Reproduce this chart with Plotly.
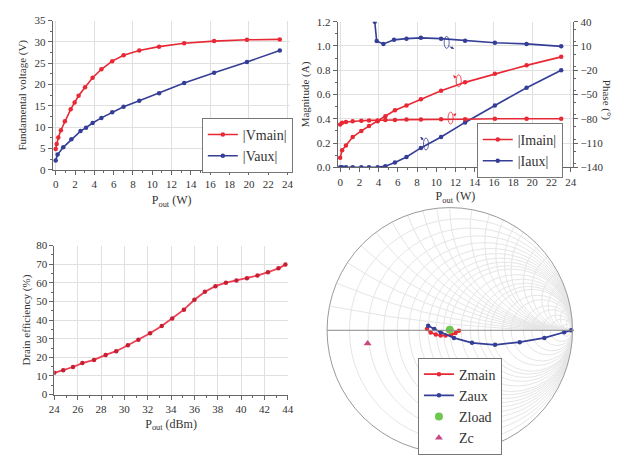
import plotly.graph_objects as go

# ---------------- data ----------------
# Top-left: fundamental voltage vs Pout (W)
xVmain = [0, 0.1, 0.27, 0.54, 0.95, 1.55, 1.96, 2.37, 3.04, 3.82, 4.73, 5.85, 7.03, 8.65, 10.7, 13.3, 16.4, 19.8, 23.2]
Vmain = [4.9, 6.1, 7.6, 9.3, 11.4, 14.2, 15.8, 17.4, 19.4, 21.6, 23.6, 25.5, 26.9, 28.0, 28.9, 29.7, 30.2, 30.5, 30.6]
xVaux = [0, 0.2, 0.78, 1.62, 2.57, 3.14, 3.82, 4.73, 5.85, 7.03, 8.65, 10.7, 13.3, 16.4, 19.8, 23.2]
Vaux = [2.2, 3.6, 5.3, 7.2, 9.1, 9.9, 11.0, 12.2, 13.5, 14.8, 16.2, 18.0, 20.4, 22.8, 25.3, 28.0]

# Top-right: current magnitude / phase vs Pout (W)
xI = [0, 0.2, 0.6, 1.3, 2.2, 3.0, 3.9, 4.7, 5.7, 6.9, 8.4, 10.5, 13.0, 16.1, 19.4, 23.0]
Imain_mag = [0.08, 0.14, 0.18, 0.25, 0.30, 0.34, 0.38, 0.42, 0.47, 0.51, 0.56, 0.63, 0.70, 0.77, 0.84, 0.91]
Imain_ph = [-87, -85, -84, -83, -82.5, -82, -82, -81.5, -81.5, -81, -81, -80.5, -80.5, -80, -80, -80]
Iaux_mag = [0, 0, 0, 0, 0, 0, 0, 0.01, 0.04, 0.085, 0.16, 0.25, 0.37, 0.51, 0.655, 0.80]
xIauxPh = [3.6, 3.8, 4.5, 5.6, 6.9, 8.4, 10.5, 13.0, 16.1, 19.4, 23.0]
Iaux_ph = [40, 16, 12.5, 17.5, 19, 20, 19, 16.5, 14, 12.5, 9.5]

# Bottom-left: drain efficiency vs Pout (dBm)
xEff = [24.0, 24.76, 25.6, 26.4, 27.4, 28.4, 29.3, 30.3, 31.2, 32.2, 33.2, 34.1, 35.1, 36.0, 36.9, 37.8, 38.7, 39.6, 40.5, 41.4, 42.3, 43.2, 43.8]
Eff = [11.7, 13.1, 14.8, 16.9, 18.6, 21.3, 23.3, 26.5, 29.4, 32.9, 36.8, 40.9, 45.6, 50.9, 55.2, 58.2, 60.1, 61.3, 62.5, 63.9, 65.7, 67.8, 69.8]

# Bottom-right: normalized impedances on Smith chart
Zmain_re = [0.686, 0.731, 0.794, 0.859, 0.931, 1.022, 1.097, 1.160]
Zmain_im = [0.014, -0.028, -0.056, -0.074, -0.080, -0.072, -0.048, -0.007]
Zaux_re = [0.699, 0.775, 0.862, 1.062, 1.405, 2.062, 3.426, 7.14, 26.9, 200.0]
Zaux_im = [0.053, 0.016, -0.028, -0.132, -0.299, -0.573, -0.998, -2.20, -6.56, 0.0]
Zload_re = [1.0]
Zload_im = [0.01]
Zc_re = [0.193]
Zc_im = [-0.077]

# ---------------- styles ----------------
RED = "rgb(232,40,52)"
BLUE = "rgb(52,62,150)"
FONT = "Liberation Serif"
TXT = "#333333"
GRID = "#e0e0e0"
AX = "#666666"

fig = go.Figure()

# Top-left
fig.add_trace(go.Scatter(x=xVmain, y=Vmain, name="|Vmain|", mode="lines+markers",
                         line=dict(color=RED, width=1.6), marker=dict(size=4.5, color=RED),
                         xaxis="x", yaxis="y", legend="legend"))
fig.add_trace(go.Scatter(x=xVaux, y=Vaux, name="|Vaux|", mode="lines+markers",
                         line=dict(color=BLUE, width=1.6), marker=dict(size=4.5, color=BLUE),
                         xaxis="x", yaxis="y", legend="legend"))
fig.add_trace(go.Scatter(x=[None], y=[None], xaxis="x5", yaxis="y", showlegend=False, hoverinfo="skip"))

# Top-right
fig.add_trace(go.Scatter(x=xI, y=Imain_mag, name="|Imain|", mode="lines+markers",
                         line=dict(color=RED, width=1.6), marker=dict(size=4.5, color=RED),
                         xaxis="x2", yaxis="y2", legend="legend2"))
fig.add_trace(go.Scatter(x=xI, y=Iaux_mag, name="|Iaux|", mode="lines+markers",
                         line=dict(color=BLUE, width=1.6), marker=dict(size=4.5, color=BLUE),
                         xaxis="x2", yaxis="y2", legend="legend2"))
fig.add_trace(go.Scatter(x=xI, y=Imain_ph, name="Imain phase", mode="lines+markers",
                         line=dict(color=RED, width=1.6), marker=dict(size=4.5, color=RED),
                         xaxis="x2", yaxis="y3", showlegend=False))
fig.add_trace(go.Scatter(x=xIauxPh, y=Iaux_ph, name="Iaux phase", mode="lines+markers",
                         line=dict(color=BLUE, width=1.6), marker=dict(size=4.5, color=BLUE),
                         xaxis="x2", yaxis="y3", showlegend=False))
fig.add_trace(go.Scatter(x=[None], y=[None], xaxis="x6", yaxis="y2", showlegend=False, hoverinfo="skip"))

# Bottom-left
fig.add_trace(go.Scatter(x=xEff, y=Eff, name="Drain efficiency", mode="lines+markers",
                         line=dict(color="rgb(236,62,84)", width=1.8),
                         marker=dict(size=4.5, color="rgb(200,30,50)"),
                         xaxis="x3", yaxis="y4", showlegend=False))

# Smith chart
fig.add_trace(go.Scattersmith(real=Zmain_re, imag=Zmain_im, name="Zmain", mode="lines+markers",
                              line=dict(color=RED, width=1.6), marker=dict(size=4.5, color=RED),
                              subplot="smith", legend="legend3"))
fig.add_trace(go.Scattersmith(real=Zaux_re, imag=Zaux_im, name="Zaux", mode="lines+markers",
                              line=dict(color=BLUE, width=1.8), marker=dict(size=4.5, color=BLUE),
                              subplot="smith", legend="legend3"))
fig.add_trace(go.Scattersmith(real=Zload_re, imag=Zload_im, name="Zload", mode="markers",
                              marker=dict(size=8, color="rgb(110,200,80)"),
                              subplot="smith", legend="legend3"))
fig.add_trace(go.Scattersmith(real=Zc_re, imag=Zc_im, name="Zc", mode="markers",
                              marker=dict(size=7, color="rgb(200,70,130)", symbol="triangle-up"),
                              subplot="smith", legend="legend3"))

tickfont = dict(family=FONT, size=11, color=TXT)
titlefont = dict(family=FONT, size=12, color=TXT)


def base_axis(**kw):
    d = dict(showline=True, linecolor=AX, linewidth=1, ticks="outside", ticklen=4,
             tickcolor=AX, tickfont=tickfont, zeroline=False, gridcolor=GRID, gridwidth=1)
    d.update(kw)
    return d


minor_x = dict(dtick=1, ticklen=2, tickcolor=AX, ticks="outside", showgrid=False)

legend_common = dict(xanchor="left", yanchor="top", bgcolor="white", bordercolor="#777777",
                     borderwidth=1, font=dict(family=FONT, size=14, color=TXT),
                     tracegroupgap=0, itemwidth=30)

fig.update_layout(
    width=623, height=459, margin=dict(l=0, r=0, t=0, b=0),
    paper_bgcolor="white", plot_bgcolor="white",
    font=dict(family=FONT, color=TXT),
    # top-left
    xaxis=base_axis(domain=[0.0766, 0.4655], range=[-0.3, 24.3], tick0=0, dtick=2, showgrid=False,
                    anchor="y", minor=minor_x,
                    title=dict(text="P<sub>out</sub> (W)", font=titlefont, standoff=6)),
    yaxis=base_axis(domain=[0.6333, 0.9673], range=[0, 35], dtick=5, showgrid=True, anchor="x",
                    minor=dict(dtick=2.5, ticklen=2, tickcolor=AX, ticks="outside"),
                    title=dict(text="Fundamental voltage (V)", font=dict(family=FONT, size=11, color=TXT), standoff=5)),
    xaxis5=dict(overlaying="x", anchor="y", range=[-0.3, 24.3], tick0=0, dtick=4, showgrid=True,
                gridcolor=GRID, showticklabels=False, ticks="", showline=False, zeroline=False),
    # top-right
    xaxis2=base_axis(domain=[0.5430, 0.9283], range=[-0.25, 24.25], tick0=0, dtick=2, showgrid=False,
                     anchor="y2", minor=minor_x,
                     title=dict(text="P<sub>out</sub> (W)", font=titlefont, standoff=5)),
    yaxis2=base_axis(domain=[0.639, 0.965], range=[0, 1.2], dtick=0.2, tickformat=".1f", showgrid=True,
                     anchor="x2", minor=dict(dtick=0.1, ticklen=2, tickcolor=AX, ticks="outside"),
                     title=dict(text="Magnitude (A)", font=dict(family=FONT, size=11, color=TXT), standoff=4)),
    yaxis3=base_axis(overlaying="y2", side="right", anchor="x2", range=[-140, 40], tick0=-140, dtick=30,
                     showgrid=False, minor=dict(dtick=15, ticklen=2, tickcolor=AX, ticks="outside")),
    xaxis6=dict(overlaying="x2", anchor="y2", range=[-0.25, 24.25], tick0=0, dtick=4, showgrid=True,
                gridcolor=GRID, showticklabels=False, ticks="", showline=False, zeroline=False),
    # bottom-left
    xaxis3=base_axis(domain=[0.0791, 0.4612], range=[24, 44], dtick=2, showgrid=True, anchor="y4",
                     minor=minor_x,
                     title=dict(text="P<sub>out</sub> (dBm)", font=titlefont, standoff=5)),
    yaxis4=base_axis(domain=[0.1307, 0.464], range=[0, 80], dtick=10, showgrid=True, anchor="x3",
                     minor=dict(dtick=5, ticklen=2, tickcolor=AX, ticks="outside"),
                     title=dict(text="Drain efficiency (%)", font=dict(family=FONT, size=11, color=TXT), standoff=3)),
    # smith chart
    smith=dict(
        domain=dict(x=[0.524, 0.9286], y=[0.0, 0.549]),
        bgcolor="white",
        realaxis=dict(tickvals=[0.1, 0.2, 0.3, 0.4, 0.5, 0.6, 0.7, 0.8, 0.9, 1, 1.2, 1.4, 1.6, 1.8, 2, 2.5, 3, 4, 5, 7, 10, 20, 50],
                      showticklabels=False, ticks="", gridcolor="#e6e6e6", gridwidth=0.7,
                      showline=True, linecolor="#8a8a8a", linewidth=1),
        imaginaryaxis=dict(tickvals=[0.1, 0.2, 0.3, 0.4, 0.5, 0.6, 0.7, 0.8, 0.9, 1, 1.2, 1.4, 1.6, 1.8, 2, 2.5, 3, 4, 5, 7, 10, 20, 50],
                           showticklabels=False, ticks="", gridcolor="#e6e6e6", gridwidth=0.7,
                           showline=True, linecolor="#9a9a9a", linewidth=1),
    ),
    legend=dict(x=0.3205, y=0.7495, **legend_common),
    legend2=dict(x=0.7705, y=0.7385, **legend_common),
    legend3=dict(x=0.6742, y=0.2135, **legend_common),
    showlegend=True,
)

# Phase axis title (reads top-to-bottom)
fig.add_annotation(text="Phase (°)", xref="paper", yref="paper", x=0.982, y=0.79, textangle=90,
                   xanchor="center", yanchor="middle",
                   showarrow=False, font=dict(family=FONT, size=11, color=TXT))

# axis-indicator ellipses with little arrows (top-right plot)
marks = [
    # ellipse cx, cy, tip x, tip y, ax, ay, color
    (11.08, 1.029, 11.86, 0.976, -6, -3, BLUE),
    (12.34, 0.713, 11.76, 0.759, 4, 4, RED),
    (11.49, 0.406, 12.10, 0.444, -4, 3, RED),
    (8.93, 0.192, 8.36, 0.252, 4, 5, BLUE),
]
for cx, cy, tx, ty, axp, ayp, col in marks:
    fig.add_shape(type="circle", xref="x2", yref="y2", xsizemode="pixel", ysizemode="pixel",
                  xanchor=cx, yanchor=cy, x0=-2.5, x1=2.5, y0=-6, y1=6,
                  line=dict(color=col, width=0.8))
    fig.add_annotation(x=tx, y=ty, xref="x2", yref="y2", text="", showarrow=True,
                       ax=axp, ay=ayp, arrowhead=2, arrowsize=0.6, arrowwidth=1, arrowcolor=col)

fig.write_html("out.html")
